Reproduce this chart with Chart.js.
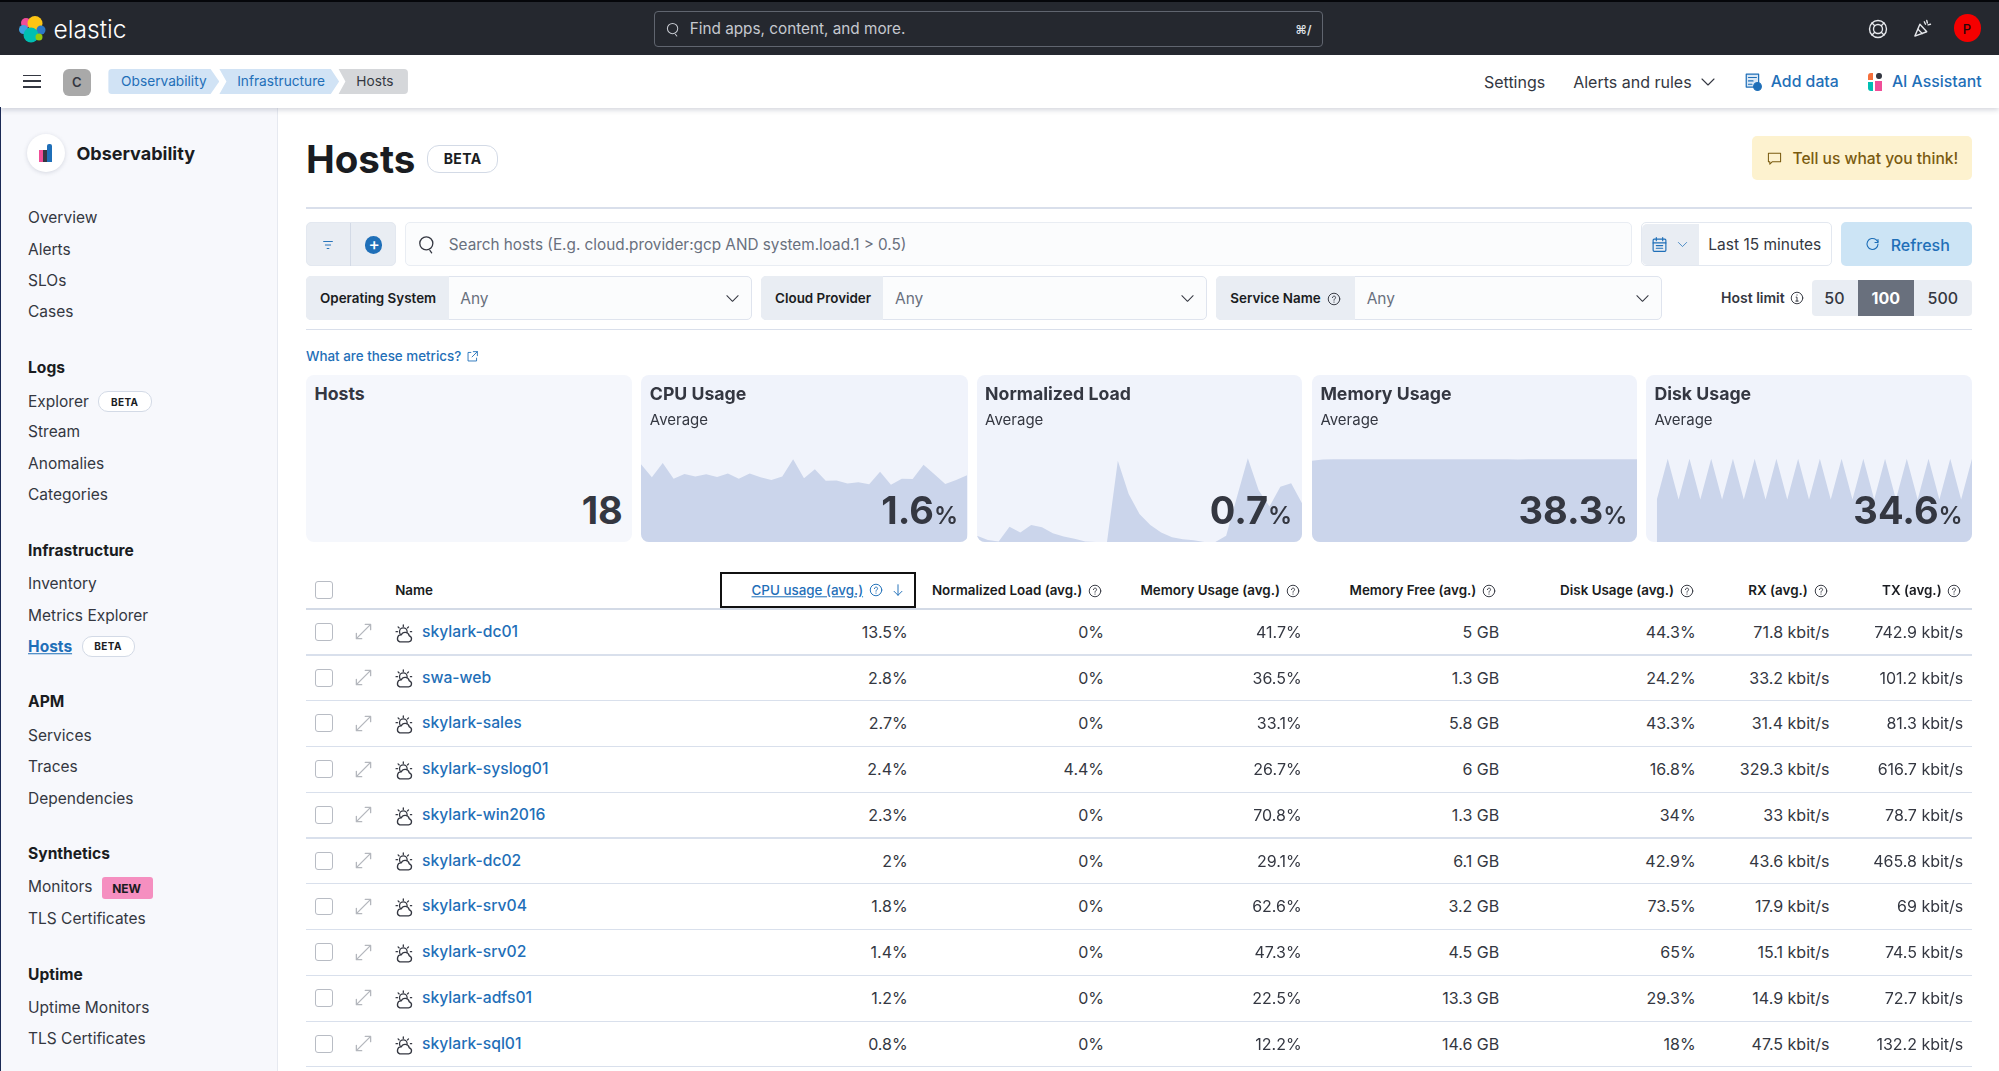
<!DOCTYPE html>
<html>
<head>
<meta charset="utf-8">
<title>Hosts - Observability</title>
<script src="https://cdn.jsdelivr.net/npm/chart.js@4/dist/chart.umd.min.js"></script>
<style>
html, body { margin: 0; padding: 0; background: #fff; }
body { width: 1999px; height: 1071px; position: relative; overflow: hidden; font-family: Inter, "Noto Sans", sans-serif; color: #343741; }
.b { position: absolute; box-sizing: border-box; }
.t { position: absolute; white-space: nowrap; line-height: 1; }
canvas { position: absolute; left: 0; top: 0; }
svg { display: block; }
</style>
</head>
<body>
<script>
// spark charts, values
var cpuUsage = [1.79,1.49,1.82,1.46,1.57,1.51,1.56,1.50,1.58,1.46,1.58,1.49,1.43,1.51,1.91,1.47,1.68,1.41,1.42,1.35,1.38,1.33,1.62,1.32,1.46,1.45,1.78,1.56,1.34,1.43,1.54];
var normLoad = [0.21,0.07,0.02,0.51,0.32,0.57,0.49,0.29,0.18,0.11,0.02,0,0,2.71,1.6,0.93,0.57,0.32,0.16,0.09,0.06,0,0,0.21,1.51,2.79,1.73,1.18,1.84,1.96,1.29];
var memUsage = [37.6,38.2,38.3,38.3,38.3,38.3,38.3,38.3,38.3,38.3,38.3,38.3,38.3,38.3,38.3,38.3,38.3,38.3,38.3,38.2,38.3,38.3,38.3,38.3,38.3,38.3,38.3,38.3,38.3,38.3,38.4];
var diskUsage = [null,23.4,45.8,23.4,45.8,23.4,45.8,23.4,45.8,23.4,45.8,23.4,45.8,23.4,45.8,23.4,45.8,23.4,45.8,23.4,45.8,23.4,45.8,23.4,45.8,23.4,45.8,23.4,45.8,23.4,45.8];

// table
var hostNames = ['skylark-dc01','swa-web','skylark-sales','skylark-syslog01','skylark-win2016','skylark-dc02','skylark-srv04','skylark-srv02','skylark-adfs01','skylark-sql01'];
var cpuAvg = ['13.5%','2.8%','2.7%','2.4%','2.3%','2%','1.8%','1.4%','1.2%','0.8%'];
var loadAvg = ['0%','0%','0%','4.4%','0%','0%','0%','0%','0%','0%'];
var memAvg = ['41.7%','36.5%','33.1%','26.7%','70.8%','29.1%','62.6%','47.3%','22.5%','12.2%'];
var memFree = ['5 GB','1.3 GB','5.8 GB','6 GB','1.3 GB','6.1 GB','3.2 GB','4.5 GB','13.3 GB','14.6 GB'];
var diskAvg = ['44.3%','24.2%','43.3%','16.8%','34%','42.9%','73.5%','65%','29.3%','18%'];
var rxAvg = ['71.8 kbit/s','33.2 kbit/s','31.4 kbit/s','329.3 kbit/s','33 kbit/s','43.6 kbit/s','17.9 kbit/s','15.1 kbit/s','14.9 kbit/s','47.5 kbit/s'];
var txAvg = ['742.9 kbit/s','101.2 kbit/s','81.3 kbit/s','616.7 kbit/s','78.7 kbit/s','465.8 kbit/s','69 kbit/s','74.5 kbit/s','72.7 kbit/s','132.2 kbit/s'];

// everything below is placed in the 1568 wide layout and scaled up
var S = 1999 / 1568;
var BLUE = '#1f6fb8';

function box(x1, y1, x2, y2, css, parent){
    var d = document.createElement('div');
    d.className = 'b';
    d.style.cssText = 'left:'+(x1*S)+'px;top:'+(y1*S)+'px;width:'+((x2-x1)*S)+'px;height:'+((y2-y1)*S)+'px;'+(css||'');
    (parent||document.body).appendChild(d);
    return d;
}
// left aligned text, y is the middle of the line
function txt(s, x, y, size, css){
    var d = document.createElement('div');
    d.className = 't';
    d.style.cssText = 'left:'+(x*S)+'px;top:'+(y*S)+'px;font-size:'+size+'px;transform:translateY(-50%);'+(css||'');
    d.innerHTML = s;
    document.body.appendChild(d);
    return d;
}
function txtR(s, x, y, size, css){
    var d = txt(s, 0, y, size, css);
    d.style.left = 'auto';
    d.style.right = (1999 - x*S)+'px';
    return d;
}
function icon(cx, cy, w, inner, stroke){
    var d = document.createElement('div');
    var h = w;
    d.className = 'b';
    d.style.cssText = 'z-index:5;left:'+(cx*S-w/2)+'px;top:'+(cy*S-h/2)+'px;width:'+w+'px;height:'+h+'px;';
    d.innerHTML = '<svg width="'+w+'" height="'+h+'" viewBox="0 0 16 16" fill="none" stroke="'+(stroke||'#343741')+'" stroke-width="1.1" stroke-linecap="round" stroke-linejoin="round">'+inner+'</svg>';
    document.body.appendChild(d);
}
var I_SEARCH = '<circle cx="7" cy="7" r="5.5"/><path d="M10 13l1.5 2"/>';
var I_CHEV = '<path d="M2 5l6 6 6-6"/>';
var I_HELP = '<circle cx="8" cy="8" r="6.6"/><path d="M6.2 6.4c0-2.4 3.8-2.2 3.6 0 0 1.3-1.8 1.3-1.8 3"/><path d="M8 11.4v.3"/>';
var I_INFO = '<circle cx="8" cy="8" r="6.6"/><path d="M7 7h1v4.5M6.6 11.5h2.8M8 4.4v.3"/>';
var I_EXPAND = '<path d="M2 14L14 2M9.5 2H14v4.5M2 9.5V14h4.5"/>';
var I_CLOUD = '<circle cx="7" cy="6.5" r="3.2"/><path d="M7 .8v1.2M2.6 2.4l.9.9M11.4 2.4l-.9.9M.9 6.5h1.2M13 6.5h1"/><path d="M4 15h7.5a2.6 2.6 0 0 0 .5-5.1A3.6 3.6 0 0 0 5.2 9.2 3 3 0 0 0 4 15z" fill="#fff"/>';

// ---- top bars
box(0, 0, 1568, 43.4, 'background:#25282f;border-top:2px solid #05060a;');
box(0, 43.4, 1568, 84.5, 'background:#fff;box-shadow:0 2px 5px rgba(60,70,100,.22);z-index:3;');
box(0, 84, 0.8, 840, 'background:#1b2a55;z-index:4;');

var logo = document.createElement('div');
logo.className = 'b';
logo.style.cssText = 'left:18px;top:15px;width:30px;height:29px;';
logo.innerHTML = '<svg width="30" height="29" viewBox="0 0 30 29"><circle cx="8" cy="8" r="5" fill="#f04e98"/><circle cx="17" cy="8.5" r="7.5" fill="#fec514"/><circle cx="5.5" cy="14.5" r="4.5" fill="#3ea0e0"/><circle cx="23" cy="15" r="4.5" fill="#2b78c6"/><circle cx="13" cy="20" r="7.5" fill="#00bfb3"/><circle cx="21" cy="22" r="3.5" fill="#93c90e"/></svg>';
document.body.appendChild(logo);
txt('elastic', 42, 23, 24.6, 'color:#fff;font-weight:300;z-index:5;');

box(513, 9, 1038, 36.5, 'border:1px solid #60656f;border-radius:4px;');
icon(528, 23, 15, I_SEARCH, '#c6c9d0');
txt('Find apps, content, and more.', 541, 23, 15.3, 'color:#c6c9d0;');
txt('⌘/', 1016, 23.5, 12, 'color:#dfe1e6;font-weight:600;');

icon(1473, 22.5, 20, '<circle cx="8" cy="8" r="6.8"/><circle cx="8" cy="8" r="3.6"/><path d="M3.2 3.2l2.2 2.2M12.8 3.2l-2.2 2.2M3.2 12.8l2.2-2.2M12.8 12.8l-2.2-2.2"/>', '#e6e8ec');
icon(1508, 22, 20, '<path d="M1.5 14.5L5.5 5l5.5 6z"/><path d="M4 9l3.5 3.5M11 2l.5 2M14 5l-2 .5M9 3l1 2"/>', '#e6e8ec');
box(1532.5, 11, 1554, 33, 'background:#f50000;border-radius:50%;z-index:5;');
txt('P', 1539.5, 22.5, 13, 'color:#26060a;z-index:6;font-weight:500;');

// second bar, above the shadow
function raise(el){ el.style.zIndex = 5; return el; }
raise(box(18, 58.5, 32, 60, 'background:#343741;'));
raise(box(18, 63, 32, 64.5, 'background:#343741;'));
raise(box(18, 67.5, 32, 69, 'background:#343741;'));
raise(box(49.5, 54, 71, 75.5, 'background:#a9a9a9;border-radius:6px;'));
raise(txt('C', 56.5, 64.5, 13, 'font-weight:600;'));
raise(box(85, 54, 172, 74, 'background:#d1e3f5;border-radius:4px 0 0 4px;clip-path:polygon(0 0,92% 0,100% 50%,92% 100%,0 100%);'));
raise(box(172, 54, 266, 74, 'background:#d1e3f5;clip-path:polygon(0 0,93% 0,100% 50%,93% 100%,0 100%,6% 50%);'));
raise(box(265.5, 54, 320, 74, 'background:#d5d7da;border-radius:0 4px 4px 0;clip-path:polygon(0 0,100% 0,100% 100%,0 100%,10% 50%);'));
raise(txt('Observability', 95, 64, 13.7, 'color:'+BLUE+';'));
raise(txt('Infrastructure', 186, 64, 13.7, 'color:'+BLUE+';'));
raise(txt('Hosts', 279.5, 64, 13.7, 'color:#343741;'));

raise(txt('Settings', 1164, 64.5, 16, 'color:#343741;'));
raise(txt('Alerts and rules', 1234, 64.5, 16, 'color:#343741;'));
icon(1340, 64, 16, I_CHEV);
raise(txt('Add data', 1389, 64.5, 15.8, 'color:'+BLUE+';font-weight:500;'));
raise(txt('AI Assistant', 1484, 64.5, 15.8, 'color:'+BLUE+';font-weight:500;'));
icon(1375, 64, 18, '<path d="M2 1h11v11.5H2z" fill="#dbe8f5"/><path d="M4 4h7M4 7h4M4 10h3"/><circle cx="12" cy="12" r="3.4" fill="'+BLUE+'"/>', BLUE);
raise(box(1465, 57, 1469.5, 63, 'background:#f5703c;border-radius:3px 0 0 0;'));
raise(box(1465, 64, 1469.5, 71, 'background:#00bfb3;border-radius:0 0 0 3px;'));
raise(box(1471, 63.5, 1476.5, 71, 'background:#f04e98;'));
raise(box(1471.5, 57, 1476, 62, 'background:#343741;border-radius:50%;'));

// ---- sidebar
box(0, 84, 218, 840, 'background:#f7f8fc;border-right:1px solid #e6e9f0;');
box(21, 105, 51, 135, 'background:#fff;border-radius:50%;box-shadow:0 1px 4px rgba(60,70,100,.18);');
box(30.5, 118, 33.5, 127, 'background:#f04e98;');
box(33.5, 118, 36.5, 127, 'background:#343741;');
box(36.5, 113, 41, 127, 'background:#1f6fb8;border-radius:2px 2px 0 0;');
txt('Observability', 60, 120.5, 18, 'font-weight:700;color:#1a1c21;');

function navHead(s, y){ txt(s, 22, y, 15.6, 'font-weight:700;color:#1a1c21;'); }
function nav(s, y, css){ txt(s, 22, y, 15.5, 'color:#343741;'+(css||'')); }
function badge(x1, x2, y){
    box(x1, y-8.5, x2, y+8.5, 'background:#fff;border:1px solid #d3dae6;border-radius:10px;');
    txt('BETA', (x1+x2)/2 - 11, y, 10, 'font-weight:700;color:#1a1c21;letter-spacing:.4px;');
}
nav('Overview', 171); nav('Alerts', 196); nav('SLOs', 220.5); nav('Cases', 245);
navHead('Logs', 288.5);
nav('Explorer', 315); badge(77, 119, 315); nav('Stream', 339); nav('Anomalies', 364); nav('Categories', 388);
navHead('Infrastructure', 432);
nav('Inventory', 458); nav('Metrics Explorer', 483);
nav('Hosts', 507.5, 'color:'+BLUE+';font-weight:700;text-decoration:underline;'); badge(64, 106, 507);
navHead('APM', 551);
nav('Services', 577); nav('Traces', 602); nav('Dependencies', 626.5);
navHead('Synthetics', 670);
nav('Monitors', 696);
box(80, 688, 120, 705.5, 'background:#f58fc0;border-radius:3px;');
txt('NEW', 88, 697, 12, 'font-weight:700;color:#1a1c21;');
nav('TLS Certificates', 721);
navHead('Uptime', 764.5);
nav('Uptime Monitors', 791); nav('TLS Certificates', 815);

// ---- page header
txt('Hosts', 240, 124.5, 38.5, 'font-weight:700;color:#1a1c21;');
box(335, 113.5, 391, 135.5, 'background:#fff;border:1.5px solid #d3dae6;border-radius:12px;');
txt('BETA', 348, 124.5, 14, 'font-weight:700;color:#1a1c21;letter-spacing:.4px;');
box(1374, 107, 1547, 141, 'background:#fdf2cf;border-radius:5px;');
icon(1392, 124, 15, '<path d="M1.5 2.5h13v9h-9l-2.5 2.5v-2.5h-1.5z"/>', '#7a5b10');
txt('Tell us what you think!', 1406, 124.5, 15.6, 'color:#7a5b10;font-weight:500;');
box(240, 162.5, 1547, 163.8, 'background:#d9dfeb;');

// ---- query bar
box(240, 174.5, 310.5, 209, 'background:#e9edf3;border:1px solid #e3e8f0;border-radius:5px;');
box(274.5, 175, 275.5, 209, 'background:#d3dae6;');
icon(257, 192, 14, '<path d="M3 4h10M5 8h6M7 12h2"/>', BLUE);
box(286, 185, 300, 199, 'background:#1f6fb8;border-radius:50%;');
txt('+', 289, 191.5, 17, 'color:#fff;font-weight:500;');
box(318, 174.5, 1280, 209, 'background:#fbfcfd;border:1px solid #e9edf3;border-radius:5px;');
icon(335, 192, 19, I_SEARCH, '#343741');
txt('Search hosts (E.g. cloud.provider:gcp AND system.load.1 &gt; 0.5)', 352, 192, 15.3, 'color:#69707d;');

box(1287, 174.5, 1437, 209, 'background:#fff;border:1.5px solid #e3e8f0;border-radius:5px;');
box(1288, 175.5, 1333, 208, 'background:#e9edf3;border-radius:5px 0 0 5px;');
icon(1302, 192, 17, '<rect x="2" y="3" width="12" height="11.5" rx="1"/><path d="M2 6.5h12M5 1.5v3M11 1.5v3M5 9h6M5 11.5h6"/>', BLUE);
icon(1319.5, 191.5, 11, I_CHEV, BLUE);
txt('Last 15 minutes', 1340, 192, 15.5, 'color:#343741;');
box(1444, 174.5, 1547, 209, 'background:#cce4f5;border-radius:5px;');
icon(1469, 191.5, 16, '<path d="M13 3.5v3h-3"/><path d="M13 8a5.5 5.5 0 1 1-2-4.3l2 2"/>', BLUE);
txt('Refresh', 1483, 192, 16, 'color:'+BLUE+';font-weight:500;');

function filterBox(x1, x2, split, label){
    box(x1, 216.5, x2, 251, 'background:#fbfcfd;border:1px solid #dfe4ee;border-radius:5px;');
    box(x1, 216.5, split, 251, 'background:#e9edf3;border-radius:5px 0 0 5px;');
    txt(label, x1+11, 234.5, 13.4, 'font-weight:600;color:#1a1c21;');
    txt('Any', split+9, 234.5, 15.5, 'color:#69707d;');
    icon(x2-15.5, 234.5, 15, I_CHEV);
}
filterBox(240, 590, 352, 'Operating System');
filterBox(597, 947, 693, 'Cloud Provider');
filterBox(954, 1304, 1063, 'Service Name');
icon(1046, 234.5, 14, I_HELP);
txt('Host limit', 1350, 233.5, 14, 'font-weight:600;color:#343741;');
icon(1409.5, 234, 14, I_INFO);
box(1421, 220, 1547, 248, 'background:#e9edf3;border-radius:4px;');
box(1457.5, 220, 1501.5, 248, 'background:#69707d;');
txt('50', 1431, 234, 16, 'color:#343741;font-weight:500;');
txt('100', 1468, 234, 16, 'color:#fff;font-weight:700;');
txt('500', 1512, 234, 16, 'color:#343741;font-weight:500;');
box(240, 258, 1547, 259, 'background:#d9dfeb;');

txt('What are these metrics?', 240, 280, 13.4, 'color:'+BLUE+';font-weight:500;');
icon(371, 280, 13, '<path d="M6 3H2.5v10.5H13V10M9 2h5v5M14 2L7.5 8.5"/>', BLUE);

// ---- KPI cards with the spark charts
function kpi(x1, x2, title, value, unit, vals, yMax){
    var card = box(x1, 294, x2, 425, 'border-radius:8px;overflow:hidden;background:'+(vals ? '#f0f3fb' : '#f5f7fc')+';');
    if(vals){
        var w = Math.round((x2-x1)*S);
        var h = Math.round(131*S);
        var c = document.createElement('canvas');
        c.width = w;
        c.height = h;
        c.style.width = w+'px';
        c.style.height = h+'px';
        card.appendChild(c);
        var labels = [];
        for(var i = 0; i < vals.length; i++) labels.push(i);
        new Chart(c, {
            type: 'line',
            data: {
                labels: labels,
                datasets: [{
                    data: vals,
                    fill: 'origin',
                    backgroundColor: '#cbd5eb',
                    borderWidth: 0,
                    pointRadius: 0,
                    tension: 0
                }]
            },
            options: {
                responsive: false,
                animation: false,
                layout: { padding: 0 },
                plugins: { legend: { display: false }, tooltip: { enabled: false } },
                scales: {
                    x: { display: false, offset: false },
                    y: { display: false, min: 0, max: yMax }
                }
            }
        });
        txt('Average', x1+6.7, 329, 15, 'color:#343741;');
    }
    txt(title, x1+6.7, 309, 17.7, 'font-weight:700;color:#343741;');
    txtR(value+(unit ? '<span style="font-size:24px;font-weight:600">'+unit+'</span>' : ''), x2-7.5, 399.8, 38, 'font-weight:700;color:#343741;');
}
kpi(240, 496, 'Hosts', '18', '', null, 0);
kpi(503, 759, 'CPU Usage', '1.6', '%', cpuUsage, 3.85);
kpi(766, 1021, 'Normalized Load', '0.7', '%', normLoad, 5.57);
kpi(1029, 1284, 'Memory Usage', '38.3', '%', memUsage, 77.4);
kpi(1291, 1547, 'Disk Usage', '34.6', '%', diskUsage, 91.8);

// ---- table
function checkbox(y){
    box(247, y-7, 261, y+7, 'background:#fff;border:1.5px solid #b8bcc4;border-radius:3px;');
}
checkbox(463);
var HEAD = 'font-weight:600;color:#1a1c21;';
txt('Name', 310, 463.5, 13.4, HEAD);
txtR('CPU usage (avg.)', 677, 463.5, 13.4, 'color:'+BLUE+';font-weight:500;text-decoration:underline;');
icon(687, 463, 14, I_HELP, BLUE);
icon(704, 463, 14, '<path d="M8 2v12M3.5 9.5L8 14l4.5-4.5"/>', BLUE);
box(565, 449, 718.5, 477, 'border:2.5px solid #111;');
var heads = ['Normalized Load (avg.)','Memory Usage (avg.)','Memory Free (avg.)','Disk Usage (avg.)','RX (avg.)','TX (avg.)'];
var headRight = [849, 1004, 1158, 1313, 1418, 1523];
heads.map(function(h, i){
    txtR(h, headRight[i], 463.5, 13.4, HEAD);
    icon(headRight[i]+10, 463.5, 14, I_HELP);
});
box(240, 477, 1547, 478.2, 'background:#d3dae6;');

var cols = [cpuAvg, loadAvg, memAvg, memFree, diskAvg, rxAvg, txAvg];
var colRight = [712, 866, 1021, 1176, 1330, 1435, 1540];
hostNames.map(function(name, r){
    var y = 495.6 + r*35.9;
    checkbox(y);
    icon(285, y, 19, I_EXPAND, '#b4b7bd');
    icon(317, y+1, 19, I_CLOUD);
    txt(name, 331, y, 15.7, 'color:'+BLUE+';font-weight:500;');
    cols.map(function(col, c){
        txtR(col[r], colRight[c], y, 16, 'color:#343741;');
    });
    box(240, y+17.7, 1547, y+18.6, 'background:#d9e0ec;');
});
</script>
</body>
</html>
